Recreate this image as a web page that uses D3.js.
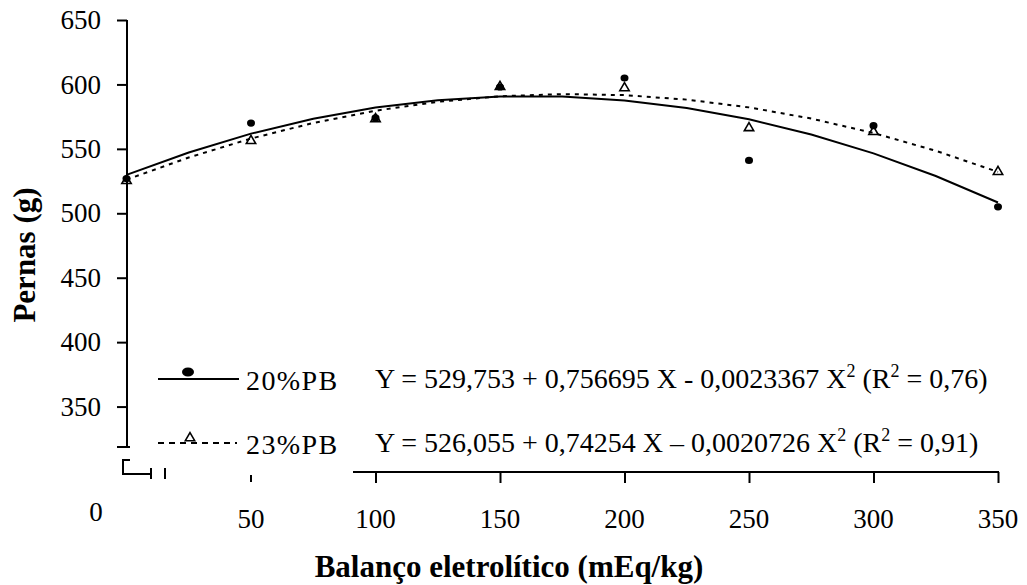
<!DOCTYPE html>
<html>
<head>
<meta charset="utf-8">
<script src="https://cdn.jsdelivr.net/npm/d3@7"></script>
<style>
  html, body { margin: 0; padding: 0; background: #fff; }
  svg { display: block; }
  text { font-family: "Liberation Serif", "Times New Roman", serif; fill: #000; }
</style>
</head>
<body>
<svg id="chart" width="1027" height="585"></svg>
<script>
// ---- data ----
const xValues = [0, 50, 100, 150, 200, 250, 300, 350];
const pb20 = [527, 570, 574, 598, 605, 541, 568, 505];
const pb23 = [526, 557, 574, 599, 598, 567, 564, 533];
const fitX = [0, 25, 50, 75, 100, 125, 150, 175, 200, 225, 250, 275, 300, 325, 350];
const fit20 = [529.8, 547.2, 561.8, 573.4, 582.1, 587.8, 590.7, 590.6, 587.6, 581.7, 572.9, 561.1, 546.5, 528.9, 508.4];
const fit23 = [526.1, 543.3, 558.0, 570.1, 579.6, 586.5, 590.8, 592.5, 591.7, 588.2, 582.2, 573.5, 562.3, 548.5, 532.1];
const yTicks = [350, 400, 450, 500, 550, 600, 650];
const xTicks = [100, 150, 200, 250, 300, 350];
const xLabels = [50, 100, 150, 200, 250, 300, 350];
const seriesNames = ["20%PB", "23%PB"];

const FONT = '"Liberation Serif", "Times New Roman", serif';
const svg = d3.select("#chart");
const x = d3.scaleLinear().domain([0, 350]).range([126.5, 998]);
const y = d3.scaleLinear().domain([300, 650]).range([471, 20]);
const axisX = 127;

// ---- y axis ----
svg.append("line").attr("x1", axisX).attr("x2", axisX).attr("y1", y(650)).attr("y2", 447)
  .attr("stroke", "#000").attr("stroke-width", 2);
const yAxis = d3.axisLeft(y).tickValues(yTicks).tickSize(10).tickPadding(16);
const gy = svg.append("g").attr("transform", `translate(${axisX},0)`).call(yAxis);
gy.select(".domain").remove();
gy.selectAll(".tick line").attr("stroke", "#000").attr("stroke-width", 2);
gy.selectAll(".tick text").style("font-size", "27px").style("font-family", FONT);
// break marks
svg.append("line").attr("x1", 117).attr("x2", 130).attr("y1", 447).attr("y2", 447).attr("stroke", "#000").attr("stroke-width", 2);
svg.append("path").attr("d", "M130,460 H123 V474 H152").attr("fill", "none").attr("stroke", "#000").attr("stroke-width", 2);
svg.append("line").attr("x1", 151).attr("x2", 151).attr("y1", 468).attr("y2", 479).attr("stroke", "#000").attr("stroke-width", 2);
svg.append("line").attr("x1", 165).attr("x2", 165).attr("y1", 468).attr("y2", 479).attr("stroke", "#000").attr("stroke-width", 2);
svg.append("line").attr("x1", x(50)).attr("x2", x(50)).attr("y1", 475).attr("y2", 482).attr("stroke", "#000").attr("stroke-width", 2);

// ---- x axis ----
svg.append("line").attr("x1", 353).attr("x2", x(350) + 1).attr("y1", 472).attr("y2", 472)
  .attr("stroke", "#000").attr("stroke-width", 2);
const xAxis = d3.axisBottom(x).tickValues(xTicks).tickSize(11).tickFormat("");
const gx = svg.append("g").attr("transform", "translate(0,472)").call(xAxis);
gx.select(".domain").remove();
gx.selectAll(".tick line").attr("stroke", "#000").attr("stroke-width", 2);
svg.selectAll(".xlab").data(xLabels).enter().append("text")
  .attr("class", "xlab").attr("x", d => x(d)).attr("y", 528)
  .attr("text-anchor", "middle").style("font-size", "27px").text(d => d);
svg.append("text").attr("x", 96).attr("y", 521).attr("text-anchor", "middle").style("font-size", "27px").text("0");

// ---- titles ----
svg.append("text").attr("x", 509).attr("y", 577).attr("text-anchor", "middle")
  .style("font-size", "31px").style("font-weight", "bold").text("Balanço eletrolítico (mEq/kg)");
svg.append("text").attr("transform", "translate(35,255) rotate(-90)").attr("text-anchor", "middle")
  .style("font-size", "31px").style("font-weight", "bold").text("Pernas (g)");

// ---- fitted lines ----
const line = d3.line().x(d => x(d[0])).y(d => y(d[1]));
svg.append("path").datum(fitX.map((v, i) => [v, fit23[i]])).attr("d", line)
  .attr("fill", "none").attr("stroke", "#000").attr("stroke-width", 2).attr("stroke-dasharray", "4,5");
svg.append("path").datum(fitX.map((v, i) => [v, fit20[i]])).attr("d", line)
  .attr("fill", "none").attr("stroke", "#000").attr("stroke-width", 2);

// ---- markers ----
svg.selectAll(".dot").data(xValues.map((v, i) => [v, pb20[i]])).enter().append("ellipse")
  .attr("cx", d => x(d[0])).attr("cy", d => y(d[1])).attr("rx", 4).attr("ry", 3.6).attr("fill", "#000");
const tri = d3.symbol().type(d3.symbolTriangle).size(38);
svg.selectAll(".tri").data(xValues.map((v, i) => [v, pb23[i]])).enter().append("path")
  .attr("d", tri).attr("transform", d => `translate(${x(d[0])},${y(d[1]) + 1})`)
  .attr("fill", "none").attr("stroke", "#000").attr("stroke-width", 1.6);

// ---- legend ----
const leg = svg.append("g");
leg.append("line").attr("x1", 158).attr("x2", 239).attr("y1", 379).attr("y2", 379).attr("stroke", "#000").attr("stroke-width", 2);
leg.append("ellipse").attr("cx", 188).attr("cy", 372).attr("rx", 6).attr("ry", 4.5).attr("fill", "#000");
leg.append("line").attr("x1", 158).attr("x2", 237).attr("y1", 443).attr("y2", 443).attr("stroke", "#000").attr("stroke-width", 2).attr("stroke-dasharray", "6,5");
leg.append("path").attr("d", tri).attr("transform", "translate(190,438)").attr("fill", "#fff").attr("stroke", "#000").attr("stroke-width", 1.6);
leg.append("text").attr("x", 246).attr("y", 390).style("font-size", "28px").style("letter-spacing", "1.4px").text(seriesNames[0]);
leg.append("text").attr("x", 246).attr("y", 454).style("font-size", "28px").style("letter-spacing", "1.4px").text(seriesNames[1]);

function equation(yPos, parts) {
  const t = leg.append("text").attr("x", 375).attr("y", yPos).style("font-size", "28px");
  parts.forEach(p => {
    const s = t.append("tspan").text(p[0]);
    if (p[1]) s.style("font-size", "18px").attr("dy", -11);
    if (p[2]) s.attr("dy", 11);
  });
}
equation(388, [["Y = 529,753 + 0,756695 X - 0,0023367 X"], ["2", true], [" (R", false, true], ["2", true], [" = 0,76)", false, true]]);
equation(452, [["Y = 526,055 + 0,74254 X \u2013 0,0020726 X"], ["2", true], [" (R", false, true], ["2", true], [" = 0,91)", false, true]]);
</script>
</body>
</html>
